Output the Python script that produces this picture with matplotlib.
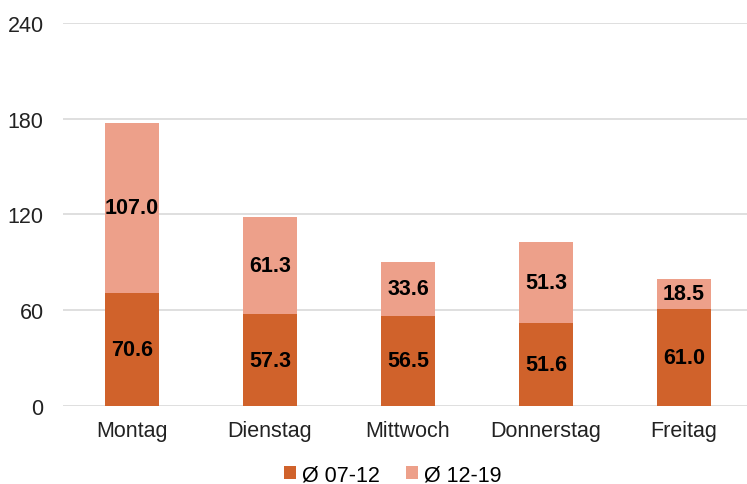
import matplotlib
matplotlib.use("Agg")
import matplotlib.pyplot as plt
import numpy as np

plt.rcParams['font.family'] = ['Liberation Sans', 'DejaVu Sans']

categories = ["Montag", "Dienstag", "Mittwoch", "Donnerstag", "Freitag"]
series_names = ["Ø 07-12", "Ø 12-19"]
morning = [70.6, 57.3, 56.5, 51.6, 61.0]
afternoon = [107.0, 61.3, 33.6, 51.3, 18.5]
yticks = [0, 60, 120, 180, 240]

c_dark = "#D0622B"
c_light = "#EDA08A"

fig = plt.figure(figsize=(7.47, 4.85), dpi=100)
ax = fig.add_axes([63/747, 0.1614, 690/747, 0.95 - 0.1614])

x = np.arange(len(categories))
w = 0.39
ax.bar(x, morning, w, color=c_dark, label=series_names[0], zorder=2)
ax.bar(x, afternoon, w, bottom=morning, color=c_light, label=series_names[1], zorder=2)

for xi, m, a in zip(x, morning, afternoon):
    ax.text(xi, m / 2, f"{m:.1f}", ha="center", va="center", fontsize=15.5,
            fontweight="bold", color="black", zorder=3)
    ax.text(xi, m + a / 2, f"{a:.1f}", ha="center", va="center", fontsize=15.5,
            fontweight="bold", color="black", zorder=3)

ax.set_ylim(0, 240)
ax.set_xlim(-0.5, 4.5)
ax.set_yticks(yticks)
ax.set_xticks(x)
ax.set_xticklabels(categories)
ax.tick_params(axis="both", length=0, labelsize=15.5, colors="#222222")
ax.tick_params(axis="y", pad=14)
ax.tick_params(axis="x", pad=10)
ax.yaxis.grid(True, color="#D9D9D9", linewidth=1.2, zorder=0)
for s in ax.spines.values():
    s.set_visible(False)

ax.legend(loc="center", bbox_to_anchor=(0.478, -0.181), ncol=2, frameon=False,
          fontsize=15.5, handlelength=0.55, handleheight=0.55, handletextpad=0.3,
          columnspacing=1.2, borderpad=0)

fig.savefig("out.png", dpi=100)
